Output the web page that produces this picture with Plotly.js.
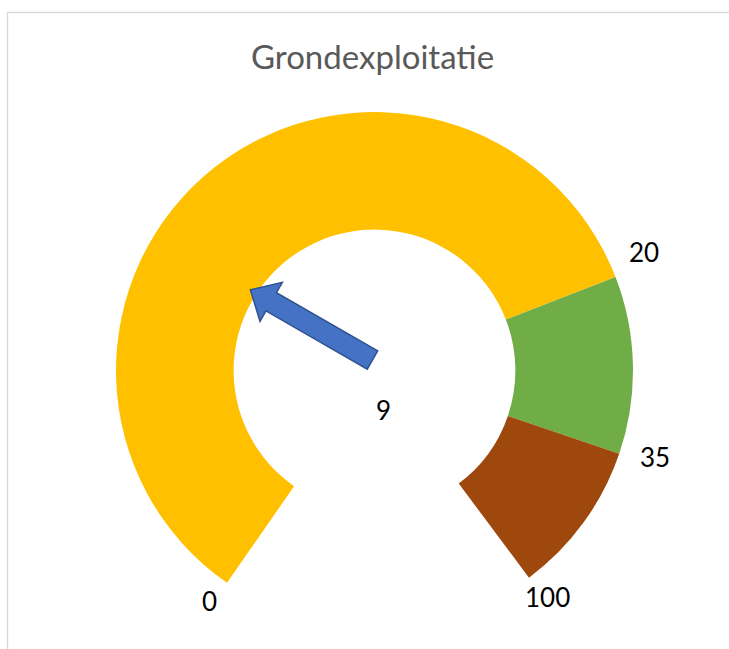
<!DOCTYPE html>
<html>
<head>
<meta charset="utf-8">
<script src="https://cdn.plot.ly/plotly-3.0.1.min.js"></script>
<style>
  html, body { margin: 0; padding: 0; background: #fff; }
  #gauge { width: 729px; height: 649px; }
</style>
</head>
<body>
<div id="gauge"></div>
<script>
// gauge bands (arc sizes in degrees of the full circle, last one is the open gap)
var bandNames  = ["laag", "midden", "hoog", "leeg"];
var bandArcs   = [214, 40, 34.5, 71.5];
var bandColors = ["#FFC000", "#70AD47", "#9E480E", "rgba(0,0,0,0)"];
var tickLabels = ["0", "20", "35", "100"];
var pointerValue = 9;
var pointerAngle = -57;     // direction the arrow points to, degrees from 12 o'clock
var startAngle   = -145.2;  // where the first band begins

var W = 729, H = 649;
var cx = 374.5, cy = 370.5, R = 258.5;   // pixel centre and outer radius
// small nudges (px) so the edge labels sit where Excel put them
var labelNudge = [[0, -6], [1, -14], [7, -6], [1, -5]];

// pixel -> paper
function px(x) { return x / W; }
function py(y) { return 1 - y / H; }
function polar(deg, r) {
  var a = deg * Math.PI / 180;
  return [cx + r * Math.sin(a), cy - r * Math.cos(a)];
}

var trace = {
  type: "pie",
  values: bandArcs,
  labels: bandNames,
  marker: { colors: bandColors, line: { width: 0 } },
  hole: 0.545,
  sort: false,
  direction: "clockwise",
  rotation: startAngle,
  textinfo: "none",
  hoverinfo: "skip",
  showlegend: false,
  domain: { x: [px(cx - R), px(cx + R)], y: [py(cy + R), py(cy - R)] }
};

// tick labels at each band edge, just outside the ring
var annotations = [];
var edge = startAngle;
var edges = [edge];
for (var i = 0; i < bandArcs.length - 1; i++) {
  edge += bandArcs[i];
  edges.push(edge);
}
var labelFont = { family: "Lato, 'Open Sans', sans-serif", size: 26, color: "#000" };
edges.forEach(function (deg, i) {
  var p = polar(deg, R + 30);
  annotations.push({
    x: px(p[0] + labelNudge[i][0]), y: py(p[1] + labelNudge[i][1]),
    xref: "paper", yref: "paper",
    text: tickLabels[i], showarrow: false,
    xanchor: "center", yanchor: "middle",
    font: labelFont
  });
});

// value label under the hub
annotations.push({
  x: px(cx + 8.5), y: py(cy + 39), xref: "paper", yref: "paper",
  text: String(pointerValue), showarrow: false,
  xanchor: "center", yanchor: "middle",
  font: labelFont
});

// block arrow pointer
function arrowPath() {
  var tail = [cx - 2, cy - 10.5];
  var tip = polar(pointerAngle, 148);
  var dx = tip[0] - tail[0], dy = tip[1] - tail[1];
  var len = Math.sqrt(dx * dx + dy * dy);
  var ux = dx / len, uy = dy / len;       // along
  var nx = -uy, ny = ux;                  // across
  var shaft = 10.5, head = 22.5, headLen = 24;
  var bx = tip[0] - ux * headLen, by = tip[1] - uy * headLen;
  var pts = [
    [tail[0] + nx * shaft, tail[1] + ny * shaft],
    [bx + nx * shaft, by + ny * shaft],
    [bx + nx * head, by + ny * head],
    tip,
    [bx - nx * head, by - ny * head],
    [bx - nx * shaft, by - ny * shaft],
    [tail[0] - nx * shaft, tail[1] - ny * shaft]
  ];
  return "M" + pts.map(function (p) { return px(p[0]) + "," + py(p[1]); }).join(" L") + " Z";
}

var shapes = [
  { type: "rect", xref: "paper", yref: "paper",
    x0: px(7.5), x1: px(740), y0: py(660), y1: py(12.5),
    line: { color: "#D9D9D9", width: 1.3 }, fillcolor: "rgba(0,0,0,0)", layer: "below" },
  { type: "path", xref: "paper", yref: "paper", path: arrowPath(),
    fillcolor: "#4472C4", line: { color: "#2F528F", width: 1.5 } }
];

var layout = {
  width: W, height: H,
  margin: { l: 0, r: 0, t: 0, b: 0 },
  paper_bgcolor: "#fff",
  title: {
    text: "Grondexploitatie",
    x: 0.511, xanchor: "center", y: py(57), yanchor: "middle",
    font: { family: "Lato, 'Open Sans', sans-serif", size: 33, color: "#595959" }
  },
  annotations: annotations,
  shapes: shapes
};

Plotly.newPlot("gauge", [trace], layout, { staticPlot: true });
</script>
</body>
</html>
